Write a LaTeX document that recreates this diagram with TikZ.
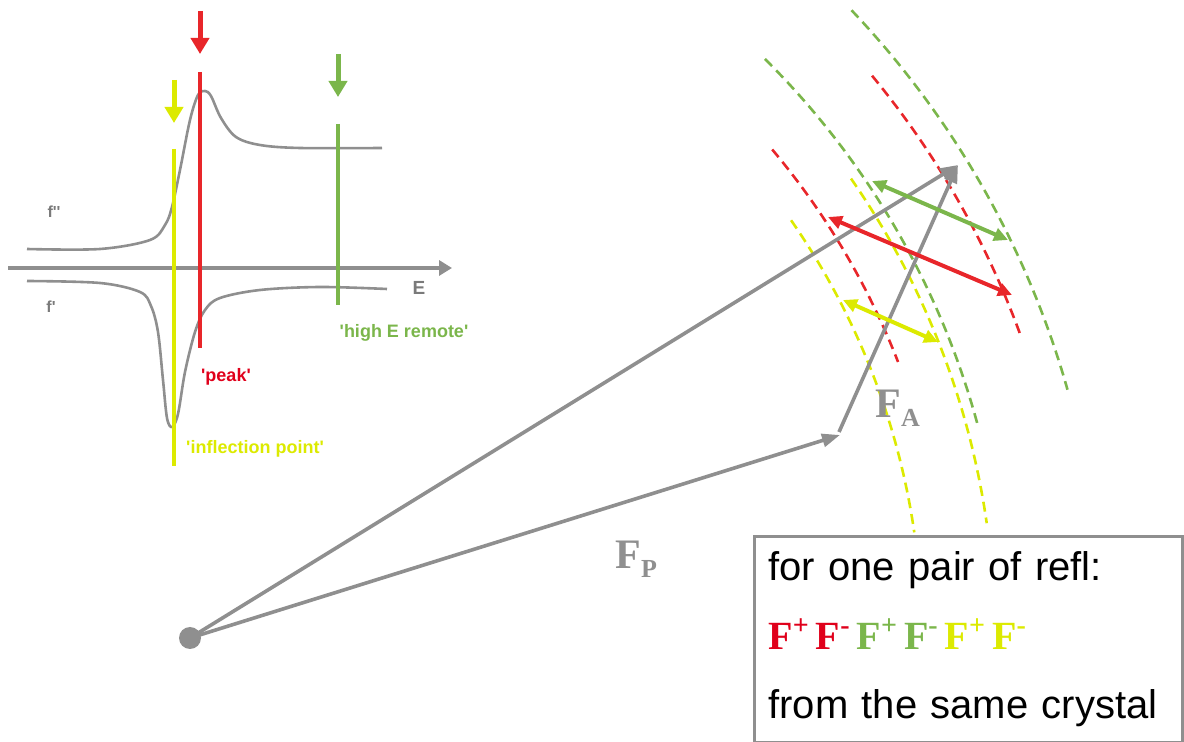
\documentclass[tikz,border=0pt]{standalone}
\usepackage{fontspec}
\setmainfont{Liberation Sans}[Ligatures=TeXOff]
\newfontfamily\fserif{Liberation Serif}
\usepackage{tikz}
\usetikzlibrary{arrows.meta}
\definecolor{anoRed}{HTML}{E8262A}
\definecolor{anoText}{HTML}{E0001B}
\definecolor{anoGreen}{HTML}{7BB64B}
\definecolor{anoYellow}{HTML}{DCEA00}
\definecolor{anoGray}{HTML}{8F8F8F}
\definecolor{anoLabel}{HTML}{7A7A7A}
\tikzset{
  axis/.style={draw=anoGray, line width=2pt, -{Triangle[length=6.5pt,width=7.5pt]}},
  curve/.style={draw=anoGray, line width=1.3pt},
  edgeline/.style={line width=2.2pt},
  marker/.style={line width=2.5pt, -{Triangle[length=8pt,width=9pt]}},
  vec/.style={draw=anoGray, line width=1.8pt, -{Triangle[length=9pt,width=6.5pt]}},
  shell/.style={line width=1.3pt, dash pattern=on 5pt off 3pt},
  pair/.style={line width=2pt, {Triangle[length=7pt,width=6.5pt]}-{Triangle[length=7pt,width=6.5pt]}},
  dot/.style={circle, fill=anoGray, minimum size=11pt, inner sep=0pt},
  plotlabel/.style={font=\bfseries\fontsize{9}{10}\selectfont, inner sep=0pt},
  curvelabel/.style={text=anoLabel, font=\bfseries\fontsize{8}{9}\selectfont, inner sep=0pt},
  amplabel/.style={text=anoGray, font=\fserif\bfseries\fontsize{21}{21}\selectfont, inner sep=0pt, anchor=base west},
  infobox/.style={
    rectangle,
    draw=anoGray,
    line width=1.5pt,
    fill=white,
    align=left,
    font=\fontsize{20}{34.5}\selectfont,
    text width=200pt,
    inner xsep=7pt,
    minimum width=214pt,
    minimum height=103pt
  }
}
\newcommand{\sub}[1]{\raisebox{-4.5pt}{\fontsize{13}{13}\selectfont #1}}
\newcommand{\fsign}[1]{F\textsuperscript{#1}\hspace{3pt}}

\begin{document}
\begin{tikzpicture}[x=0.5pt,y=-0.5pt]
  \useasboundingbox (0,0) rectangle (1184,742);
  % anomalous scattering curves
  \draw[axis] (8,268) -- (452,268);
  \draw[curve] plot[smooth, tension=0.55] coordinates {(27,249) (100,249) (150,240) (165,225) (172,207)
    (180,170) (190,120) (198,95) (205,91) (211,96) (221,118) (236,137) (260,145) (300,148) (382,148)};
  \draw[curve] plot[smooth, tension=0.55] coordinates {(27,281) (100,283) (140,292) (151,306) (158,332)
    (163,380) (167,418) (172,427) (178,414) (185,372) (195,332) (205,310) (220,298) (260,290) (320,287) (387,289)};
  \node[curvelabel] (fpp) at (54,212) {f''};
  \node[curvelabel] (fp) at (51,307) {f'};
  \node[curvelabel, font=\bfseries\fontsize{9.5}{10}\selectfont] (elabel) at (419,288) {E};
  \draw[edgeline, anoYellow] (174,149) -- (174,466);
  \draw[edgeline, anoRed] (200,72) -- (200,348);
  \draw[edgeline, anoGreen] (338,124) -- (338,305);
  \draw[marker, anoRed] (200,11) -- (200,54);
  \draw[marker, anoYellow] (174,80) -- (174,123);
  \draw[marker, anoGreen] (338,54) -- (338,97);
  \node[plotlabel, text=anoText] (peak) at (226,377) {'peak'};
  \node[plotlabel, text=anoYellow] (inflection) at (255,449) {'inflection point'};
  \node[plotlabel, text=anoGreen] (remote) at (404,333) {'high E remote'};

  % Harker construction
  \node[dot] (orig) at (190,638) {};
  \foreach \col/\rad/\from/\to in {anoGreen/912/43.5/15.8, anoRed/884/39.5/20.1, anoGreen/816/45.2/14.9,
      anoYellow/805/34.8/8.2, anoRed/760/40.0/21.3, anoYellow/732/34.8/8.3}
    \draw[shell, \col] (orig.center) ++(-\from:\rad) arc[start angle=-\from, end angle=-\to, radius=\rad];
  \coordinate (tipP) at (840,435);
  \coordinate (tipA) at (958,165);
  \draw[vec] (orig.center) -- (tipA);
  \draw[vec] (orig.center) -- (tipP);
  \draw[vec] (839,432) -- (tipA);
  \coordinate (g1) at (872,181);
  \coordinate (g2) at (1008,240);
  \coordinate (r1) at (828,217);
  \coordinate (r2) at (1012,295);
  \coordinate (y1) at (843,300);
  \coordinate (y2) at (938,342);
  \draw[pair, anoGreen] (g1) -- (g2);
  \draw[pair, anoRed] (r1) -- (r2);
  \draw[pair, anoYellow] (y1) -- (y2);
  \node[amplabel] (FA) at (875,418) {F\sub{A}};
  \node[amplabel] (FP) at (615,569) {F\sub{P}};

  \node[infobox, anchor=north west] (info) at (753,535) {for one pair of refl:\\
    {\fserif\bfseries\color{anoText}\fsign{+}\fsign{-}\color{anoGreen}\fsign{+}\fsign{-}\color{anoYellow}\fsign{+}\fsign{-}}\\
    from the same crystal};
\end{tikzpicture}
\end{document}
